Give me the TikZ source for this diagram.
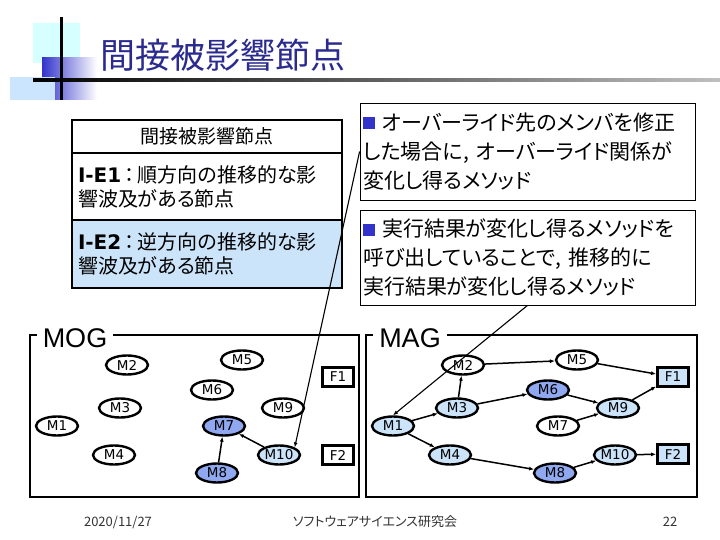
\documentclass[tikz,border=0pt]{standalone}
\usepackage{fontspec}
\setmainfont{Noto Sans CJK JP}[RawFeature={+palt}]
\newfontfamily\nodefont{DejaVu Sans}
\newfontfamily\idfont{DejaVu Sans}
\newfontfamily\graphfont{Liberation Sans}
\usetikzlibrary{arrows.meta,shapes.geometric}

\definecolor{titleblue}{RGB}{43,43,143}
\definecolor{decocyan}{RGB}{214,255,255}
\definecolor{decoblue}{RGB}{51,51,204}
\definecolor{decolite}{RGB}{204,229,255}
\definecolor{lite}{RGB}{204,228,250}
\definecolor{deep}{RGB}{143,168,240}

\newcommand{\sqbullet}{\textcolor{decoblue}{\rule[1pt]{12pt}{12pt}}\ }

\begin{document}
\begin{tikzpicture}[
  x=1pt,
  y=-1pt,
  >={Latex[length=5pt,width=4pt]},
  mnode/.style={ellipse,draw=black,line width=2.4pt,minimum width=42,minimum height=19,
                inner sep=0pt,font=\nodefont\fontsize{13.5}{13.5}\selectfont},
  fnode/.style={draw=black,line width=2.8pt,minimum width=31,minimum height=19,
                inner sep=0pt,font=\nodefont\fontsize{13.5}{13.5}\selectfont},
  edge/.style={draw=black,line width=1.5pt,->},
  thinarrow/.style={draw=black,line width=1.1pt,->},
  cell/.style={draw=black,line width=1.6pt,minimum width=270,inner sep=0pt},
  callout/.style={draw=black,line width=0.8pt,minimum width=335,text width=329,
                  align=left,inner xsep=3pt,font=\fontsize{21}{29}\selectfont},
  frame/.style={draw=black,line width=1.6pt},
  framelabel/.style={fill=white,inner xsep=6pt,inner ysep=1pt,
                     font=\graphfont\fontsize{27}{27}\selectfont},
  footer/.style={text=black!80,font=\fontsize{13}{13}\selectfont}
]
\useasboundingbox (0,0) rectangle (720,540);
\fill[white] (0,0) rectangle (720,540);

% =====================================================================
% Title bar
% =====================================================================
\fill[decocyan] (33,23) rectangle (80,63);
\shade[left color=decoblue,middle color=decoblue,right color=white] (42,58) rectangle (97,100);
\fill[decolite] (10,77) rectangle (55,100);
\shade[left color=black,right color=black!25] (33,78.5) rectangle (720,81.5);
\draw[line width=3pt] (61,17) -- (61,100);
\node[anchor=west,text=titleblue,font=\fontsize{35}{35}\selectfont] (title) at (97,55)
  {間接被影響節点};

% =====================================================================
% Table of indirectly affected nodes
% =====================================================================
\node[cell,minimum height=33,font=\fontsize{19}{19}\selectfont] (thead) at (207,136.5)
  {間接被影響節点};
\node[cell,minimum height=67,text width=258,align=left,font=\fontsize{20}{24}\selectfont]
  (tie1) at (207,186.5)
  {{\idfont\bfseries I-E1}\,：\,順方向の推移的な影\\響波及がある節点};
\node[cell,fill=lite,minimum height=68,text width=258,align=left,font=\fontsize{20}{24}\selectfont]
  (tie2) at (207,254)
  {{\idfont\bfseries I-E2}\,：\,逆方向の推移的な影\\響波及がある節点};

% =====================================================================
% Callouts
% =====================================================================
\node[callout,minimum height=97] (over) at (527.5,151.5)
  {\sqbullet オーバーライド先のメンバを修正\\した場合に, オーバーライド関係が\\変化し得るメソッド};
\node[callout,minimum height=95] (trans) at (527.5,257.5)
  {\sqbullet 実行結果が変化し得るメソッドを\\呼び出していることで, 推移的に\\実行結果が変化し得るメソッド};

% =====================================================================
% MOG
% =====================================================================
\draw[frame] (30,335) rectangle (359,497);
\node[framelabel] (moglab) at (75,338) {MOG};

\foreach \n/\x/\y/\c in {1/57/426/white, 2/127/365/white, 3/120/408/white, 4/114/455/white,
                         5/242/360/white, 6/212/390/white, 7/224/426/deep, 8/217/473/deep,
                         9/283/408/white, 10/279/455/lite}{
  \node[mnode,fill=\c] (og\n) at (\x,\y) {M\n};
}
\node[fnode,fill=white] (ogf1) at (338,377) {F1};
\node[fnode,fill=white] (ogf2) at (338,455) {F2};

\draw[edge] (og8) -- (og7);
\draw[edge] (og10) -- (og7);

% =====================================================================
% MAG
% =====================================================================
\draw[frame] (366,335) rectangle (697,497);
\node[framelabel] (maglab) at (410,338) {MAG};

\foreach \n/\x/\y/\c in {1/393/426/lite, 2/463/365/white, 3/457/408/lite, 4/450/455/lite,
                         5/577/360/white, 6/548/390/deep, 7/558/426/white, 8/555/473/deep,
                         9/618/408/lite, 10/615/455/lite}{
  \node[mnode,fill=\c] (ag\n) at (\x,\y) {M\n};
}
\node[fnode,fill=lite] (agf1) at (673,377) {F1};
\node[fnode,fill=lite] (agf2) at (673,454) {F2};

\foreach \a/\b in {ag1/ag3, ag1/ag4, ag3/ag2, ag3/ag6, ag2/ag5, ag5/agf1, ag6/ag9,
                   ag7/ag9, ag9/agf1, ag4/ag8, ag8/ag10, ag10/agf2}{
  \draw[edge] (\a) -- (\b);
}

% --- callout pointers ---
\draw[thinarrow] (over.west) -- (og10.north east);
\draw[thinarrow] (trans.south) -- (ag1.north);

% =====================================================================
% Footer
% =====================================================================
\node[footer] (date) at (118,522) {2020/11/27};
\node[footer] (society) at (375,522) {ソフトウェアサイエンス研究会};
\node[footer] (page) at (670,522) {22};

\end{tikzpicture}
\end{document}
